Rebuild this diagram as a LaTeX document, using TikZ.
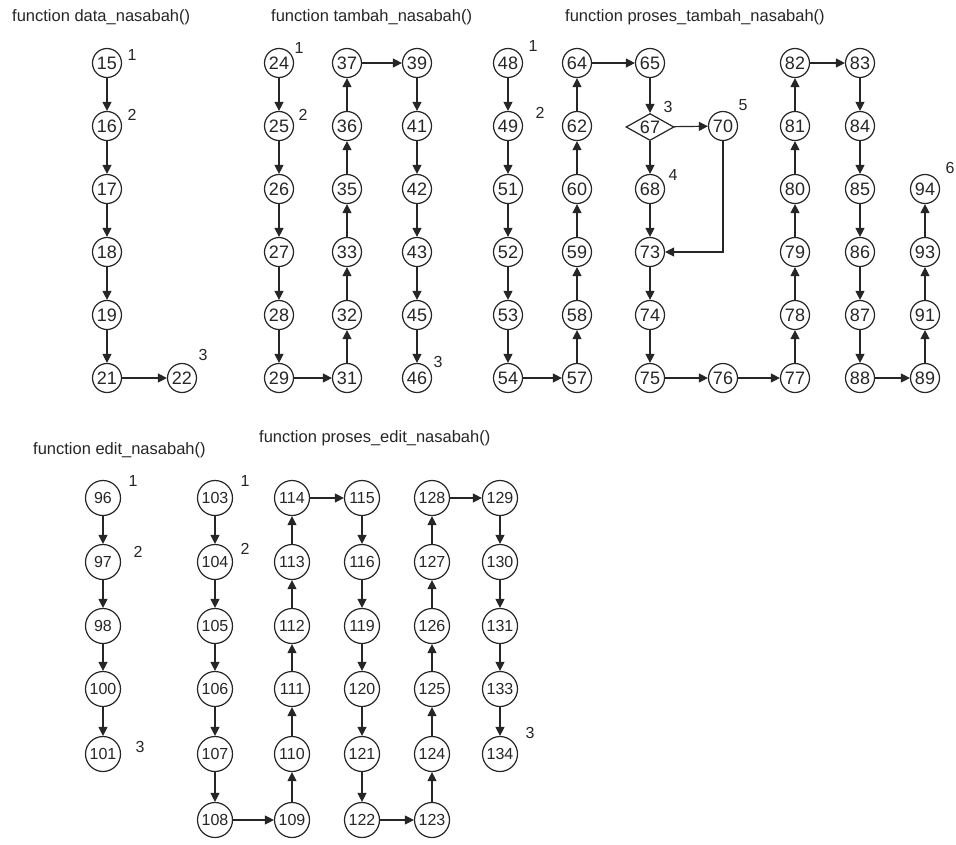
\documentclass[tikz,border=0pt]{standalone}
\usepackage{fontspec}
\setmainfont{Liberation Sans}
\usetikzlibrary{arrows.meta,shapes.geometric}
\begin{document}
\begin{tikzpicture}[x=1pt,y=-1pt,
  nd/.style={circle,draw=black!85,line width=1.2pt,minimum size=29pt,inner sep=0pt,text=black!85,font=\fontsize{18}{18}\selectfont},
  ndb/.style={nd,minimum size=35pt,font=\fontsize{16}{16}\selectfont},
  dm/.style={diamond,draw=black!85,line width=1.2pt,minimum width=48pt,minimum height=27pt,inner sep=0pt,aspect=1.8,text=black!85,font=\fontsize{18}{18}\selectfont},
  ttl/.style={anchor=west,inner sep=0pt,text=black!85,font=\fontsize{16.5}{18}\selectfont},
  lbl/.style={inner sep=0pt,text=black!85,font=\fontsize{16}{16}\selectfont},
  ar/.style={-{Triangle[length=9pt,width=9pt]},line width=1.2pt,draw=black!85}
]
\useasboundingbox (0,0) rectangle (956,844);
\fill[white] (0,0) rectangle (956,844);

% titles
\node[ttl] (t1) at (12,17) {function data\_nasabah()};
\node[ttl] (t2) at (271,17) {function tambah\_nasabah()};
\node[ttl] (t3) at (565,17) {function proses\_tambah\_nasabah()};
\node[ttl] (t4) at (33,450) {function edit\_nasabah()};
\node[ttl] (t5) at (259,438) {function proses\_edit\_nasabah()};

% top section rows: 63,126,189,252,315,378
% data_nasabah
\foreach \n/\y in {15/63,16/126,17/189,18/252,19/315,21/378}
  \node[nd] (n\n) at (107,\y) {\n};
\node[nd] (n22) at (182,378) {22};

% tambah_nasabah
\foreach \n/\y in {24/63,25/126,26/189,27/252,28/315,29/378}
  \node[nd] (n\n) at (279,\y) {\n};
\foreach \n/\y in {37/63,36/126,35/189,33/252,32/315,31/378}
  \node[nd] (n\n) at (347,\y) {\n};
\foreach \n/\y in {39/63,41/126,42/189,43/252,45/315,46/378}
  \node[nd] (n\n) at (417,\y) {\n};

% proses_tambah_nasabah
\foreach \n/\y in {48/63,49/126,51/189,52/252,53/315,54/378}
  \node[nd] (n\n) at (508,\y) {\n};
\foreach \n/\y in {64/63,62/126,60/189,59/252,58/315,57/378}
  \node[nd] (n\n) at (577,\y) {\n};
\node[nd] (n65) at (650,63) {65};
\node[dm] (n67) at (650,127) {67};
\foreach \n/\y in {68/189,73/252,74/315,75/378}
  \node[nd] (n\n) at (650,\y) {\n};
\node[nd] (n70) at (723,126) {70};
\node[nd] (n76) at (723,378) {76};
\foreach \n/\y in {82/63,81/126,80/189,79/252,78/315,77/378}
  \node[nd] (n\n) at (795,\y) {\n};
\foreach \n/\y in {83/63,84/126,85/189,86/252,87/315,88/378}
  \node[nd] (n\n) at (860,\y) {\n};
\foreach \n/\y in {94/189,93/252,91/315,89/378}
  \node[nd] (n\n) at (925,\y) {\n};

% bottom section rows: 498,562,626,689,754,820
\foreach \n/\y in {96/498,97/562,98/626,100/689,101/754}
  \node[ndb] (n\n) at (103,\y) {\n};
\foreach \n/\y in {103/498,104/562,105/626,106/689,107/754,108/820}
  \node[ndb] (n\n) at (215,\y) {\n};
\foreach \n/\y in {114/498,113/562,112/626,111/689,110/754,109/820}
  \node[ndb] (n\n) at (292,\y) {\n};
\foreach \n/\y in {115/498,116/562,119/626,120/689,121/754,122/820}
  \node[ndb] (n\n) at (362,\y) {\n};
\foreach \n/\y in {128/498,127/562,126/626,125/689,124/754,123/820}
  \node[ndb] (n\n) at (432,\y) {\n};
\foreach \n/\y in {129/498,130/562,131/626,133/689,134/754}
  \node[ndb] (n\n) at (500,\y) {\n};

% small region labels
\node[lbl] (l15) at (132,55) {1};
\node[lbl] (l16) at (132,115) {2};
\node[lbl] (l22) at (203,355) {3};
\node[lbl] (l24) at (299,48) {1};
\node[lbl] (l25) at (303,115) {2};
\node[lbl] (l46) at (438,362) {3};
\node[lbl] (l48) at (533,46) {1};
\node[lbl] (l49) at (540,113) {2};
\node[lbl] (l67) at (668,107) {3};
\node[lbl] (l68) at (673,175) {4};
\node[lbl] (l70) at (743,105) {5};
\node[lbl] (l94) at (950,168) {6};
\node[lbl] (l96) at (133,481) {1};
\node[lbl] (l97) at (138,552) {2};
\node[lbl] (l101) at (140,747) {3};
\node[lbl] (l103) at (245,481) {1};
\node[lbl] (l104) at (245,549) {2};
\node[lbl] (l134) at (530,733) {3};

% edges
\foreach \a/\b in {15/16,16/17,17/18,18/19,19/21,21/22,
  24/25,25/26,26/27,27/28,28/29,29/31,31/32,32/33,33/35,35/36,36/37,37/39,39/41,41/42,42/43,43/45,45/46,
  48/49,49/51,51/52,52/53,53/54,54/57,57/58,58/59,59/60,60/62,62/64,64/65,65/67,67/70,67/68,68/73,
  73/74,74/75,75/76,76/77,77/78,78/79,79/80,80/81,81/82,82/83,83/84,84/85,85/86,86/87,87/88,88/89,89/91,91/93,93/94,
  96/97,97/98,98/100,100/101,
  103/104,104/105,105/106,106/107,107/108,108/109,109/110,110/111,111/112,112/113,113/114,114/115,115/116,116/119,
  119/120,120/121,121/122,122/123,123/124,124/125,125/126,126/127,127/128,128/129,129/130,130/131,131/133,133/134}
  \draw[ar] (n\a) -- (n\b);
\draw[ar] (n70) |- (n73);
\end{tikzpicture}
\end{document}
